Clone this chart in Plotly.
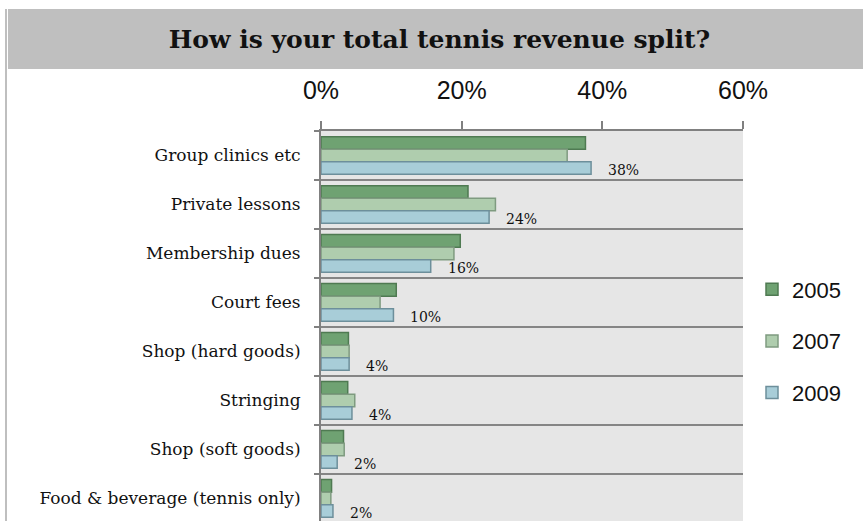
import plotly.graph_objects as go

# Revenue split by category, share of total tennis revenue (%)
categories = [
    "Group clinics etc",
    "Private lessons",
    "Membership dues",
    "Court fees",
    "Shop (hard goods)",
    "Stringing",
    "Shop (soft goods)",
    "Food & beverage (tennis only)",
]
years = ["2005", "2007", "2009"]
share_2005 = [37.6, 20.9, 19.8, 10.7, 3.9, 3.8, 3.2, 1.5]
share_2007 = [35.0, 24.8, 18.9, 8.4, 4.0, 4.8, 3.3, 1.4]
share_2009 = [38.4, 23.9, 15.6, 10.3, 4.0, 4.4, 2.3, 1.7]
x_ticks = [0, 20, 40, 60]
x_tick_labels = ["0%", "20%", "40%", "60%"]

fills = ["#6fa272", "#afcdae", "#a8cdd8"]
edges = ["#4f7a52", "#7f9b80", "#6d8f9b"]

W, H = 863, 521
ML, MR, MT, MB = 321, 120, 131, 0
plot_w = W - ML - MR
plot_h = H - MT - MB
y_range = [7.46, -0.5]
band_px = plot_h / (y_range[0] - y_range[1])
bargap = 0.23


def px_x(p):
    return (p - ML) / plot_w


def px_y(p):
    return (H - MB - p) / plot_h


fig = go.Figure()
for i, (yr, vals) in enumerate(zip(years, [share_2005, share_2007, share_2009])):
    fig.add_trace(go.Bar(
        name=yr, y=categories, x=vals, orientation="h",
        legendgroup=yr,
        marker=dict(color=fills[i], line=dict(color=edges[i], width=1.5)),
        hoverinfo="x+y",
    ))

# value labels beside the 2009 bars
bar_px = band_px * (1 - bargap) / 3
for cat, v in zip(categories, share_2009):
    fig.add_annotation(
        x=v, y=cat, text=f"{round(v)}%", showarrow=False,
        xanchor="left", yanchor="middle", xshift=15, yshift=-(bar_px + 1.5),
        font=dict(family="DejaVu Serif", size=14, color="#111"),
    )

# title band and left frame line
fig.add_shape(type="rect", xref="paper", yref="paper",
              x0=px_x(8), x1=px_x(W), y0=px_y(69), y1=px_y(9),
              fillcolor="#bfbfbf", line_width=0, layer="below")
fig.add_shape(type="line", xref="paper", yref="paper",
              x0=px_x(6), x1=px_x(6), y0=px_y(9), y1=px_y(H),
              line=dict(color="#bfbfbf", width=2))

fig.update_layout(
    width=W, height=H,
    margin=dict(l=ML, r=MR, t=MT, b=MB),
    paper_bgcolor="white",
    plot_bgcolor="#e6e6e6",
    barmode="group",
    bargap=bargap,
    bargroupgap=0,
    title=dict(
        text="How is your total tennis revenue split?",
        x=439.5 / W, xanchor="center",
        y=1 - 39 / H, yanchor="middle",
        font=dict(family="DejaVu Serif", size=25, color="#111", weight="bold"),
    ),
    xaxis=dict(
        side="top", range=[0, 60],
        tickvals=x_ticks, ticktext=x_tick_labels,
        ticks="outside", ticklen=8, tickwidth=1.5, tickcolor="#808080",
        ticklabelstandoff=12,
        showline=True, linecolor="#808080", linewidth=2,
        showgrid=False, zeroline=False,
        tickfont=dict(family="Liberation Sans", size=25, color="#111"),
    ),
    yaxis=dict(
        type="category", range=y_range,
        tickson="boundaries",
        ticks="outside", ticklen=5, tickwidth=1.5, tickcolor="#808080",
        ticklabelstandoff=15,
        showline=True, linecolor="#808080", linewidth=2,
        showgrid=True, gridcolor="#858585", gridwidth=2,
        zeroline=False,
        tickfont=dict(family="DejaVu Serif", size=17, color="#111"),
    ),
    legend=dict(
        x=px_x(752), xanchor="left",
        y=px_y(341), yanchor="middle",
        tracegroupgap=20,
        font=dict(family="Liberation Sans", size=22, color="#111"),
        bgcolor="rgba(0,0,0,0)",
    ),
    showlegend=True,
)

fig.write_html("out.html")
